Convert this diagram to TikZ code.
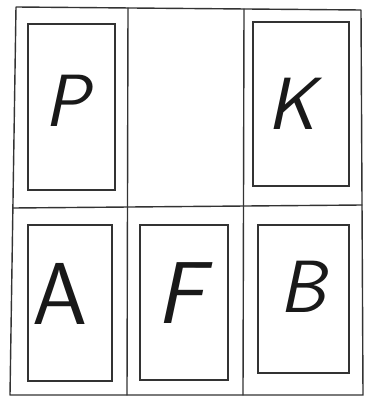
\documentclass[tikz,border=0pt]{standalone}
\begin{document}
\begin{tikzpicture}[x=1pt,y=-1pt,
  frame/.style={draw=black!80, line width=1.4pt, line join=round, line cap=round},
  panel/.style={draw=black!80, line width=1.3pt, inner sep=0pt, fill=none},
  letter/.style={text=black!90, inner sep=0pt},
  small letter/.style={letter, font=\sffamily\slshape\fontsize{74}{74}\selectfont},
  big letter/.style={letter, font=\sffamily\fontsize{88}{88}\selectfont}]
\useasboundingbox (0,0) rectangle (365,398);
% outer frame corners
\coordinate (tl) at (16,7);
\coordinate (tr) at (361,10);
\coordinate (br) at (363,395);
\coordinate (bl) at (10,395);
\draw[frame] (tl) -- (tr) -- (br) -- (bl) -- cycle;
% dividers
\coordinate (v1t) at (128,8);
\coordinate (v1b) at (127,395);
\coordinate (v2t) at (244,9);
\coordinate (v2b) at (243,395);
\coordinate (hl) at (13,208);
\coordinate (hr) at (362,205);
\draw[frame] (v1t) -- (v1b);
\draw[frame] (v2t) -- (v2b);
\draw[frame] (hl) -- (hr);
% panels
\node[panel, minimum width=87pt, minimum height=166pt] (boxP) at (71.5,107) {};
\node[panel, minimum width=96pt, minimum height=164pt] (boxK) at (301,104) {};
\node[panel, minimum width=84pt, minimum height=156pt] (boxA) at (70,303) {};
\node[panel, minimum width=88pt, minimum height=155pt] (boxF) at (184,302.5) {};
\node[panel, minimum width=91pt, minimum height=148pt] (boxB) at (303.5,299) {};
% letters
\node[small letter] (P) at (67,101) {P};
\node[small letter] (K) at (292,104) {K};
\node[big letter] (A) at (60,294) {A};
\node[big letter, font=\sffamily\slshape\fontsize{88}{88}\selectfont] (F) at (180,293) {F};
\node[small letter] (B) at (303,287) {B};
\end{tikzpicture}
\end{document}
